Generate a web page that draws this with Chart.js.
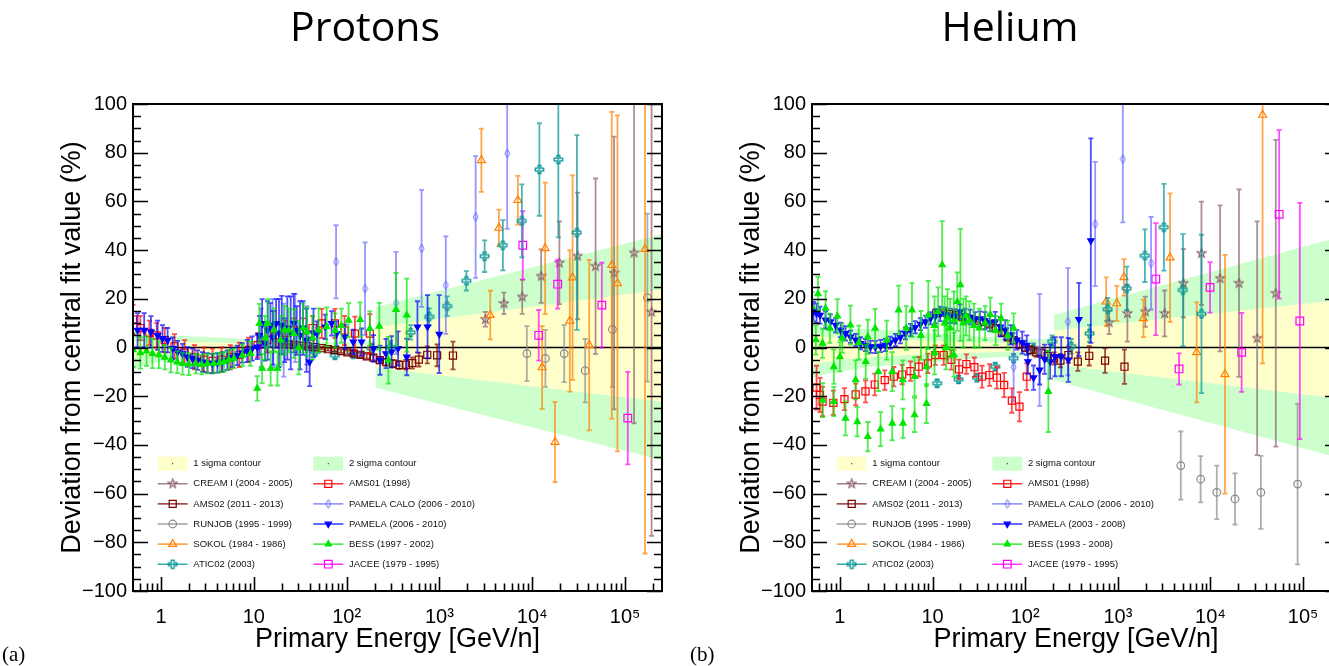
<!DOCTYPE html>
<html>
<head>
<meta charset="utf-8">
<script src="https://cdn.jsdelivr.net/npm/chart.js@4.4.1/dist/chart.umd.min.js"></script>
<style>
  html, body { margin: 0; padding: 0; width: 1329px; height: 666px; overflow: hidden; background: #fff; }
  canvas { position: absolute; top: 0; }
  #protonChart { left: 0; }
  #heliumChart { left: 679px; }
  .title { position: absolute; top: 5px; width: 300px; text-align: center; font-family: 'Open Sans', sans-serif; font-size: 41px; line-height: 1; color: #000; }
  .tag { position: absolute; top: 644px; font-family: 'Liberation Serif', serif; font-size: 21px; line-height: 1; color: #000; }
</style>
</head>
<body>
<canvas id="protonChart" width="680" height="666"></canvas>
<canvas id="heliumChart" width="680" height="666"></canvas>
<div class="title" style="left:215px">Protons</div>
<div class="title" style="left:860px">Helium</div>
<div class="tag" style="left:2px">(a)</div>
<div class="tag" style="left:690px">(b)</div>
<script>
// Deviation from central fit value, protons (a) and helium (b)

// Axes
const xMin = 0.5, xMax = 2.5e5;
const yMin = -100, yMax = 100;
const xTickValues = [1, 10, 100, 1000, 10000, 100000];
const xTickLabels = ['1', '10', '10\u00B2', '10\u00B3', '10\u2074', '10\u2075'];
const yTickStep = 20;

// ---------- Protons ----------
// fit uncertainty bands (low energy part and high energy part)
const pBandLowE = [0.5, 0.7, 1, 2, 5, 10, 20, 50, 100, 205];
const pBandLowGreenTop = [6, 5.5, 5, 4.6, 4, 3.2, 2.6, 2.2, 2.2, 2.6];
const pBandLowGreenBot = [-9, -7, -5.8, -4.8, -4, -3.2, -2.6, -2.2, -2.2, -2.6];
const pBandLowYellowTop = [2.5, 2.4, 2.3, 2.2, 2, 1.6, 1.3, 1.1, 1.1, 1.3];
const pBandLowYellowBot = [-4, -3.4, -3, -2.4, -2, -1.6, -1.3, -1.1, -1.1, -1.3];
const pBandHighE = [205, 250000];
const pBandHighGreenTop = [16.5, 46.5];
const pBandHighGreenBot = [-16.5, -46.3];
const pBandHighYellowTop = [8.3, 23.8];
const pBandHighYellowBot = [-8.3, -22.3];

const pCreamE = [3130, 4950, 7800, 12470, 19600, 30800, 48100, 76200, 125000, 193000];
const pCreamV = [11.6, 18.1, 20.8, 29.3, 34.8, 37.6, 33.4, 30.6, 38.9, 14.6];
const pCreamErr = [3, 4.4, 7, 11, 17, 26, 36, 56, 70, 92];

const pAms02E = [20, 24, 28, 33, 39, 46, 54, 63, 74, 87, 102, 120, 141, 165, 194, 228, 268, 315, 370, 435, 510, 600, 740, 945, 1400];
const pAms02V = [1.5, 1.3, 1.0, 0.7, 0.4, 0.1, -0.3, -0.7, -1.1, -1.5, -2.0, -2.5, -3.0, -3.6, -4.2, -5.2, -6.0, -6.6, -7.2, -7.1, -6.4, -5.0, -3.0, -3.2, -3.3];
const pAms02Err = [0.4, 0.4, 0.4, 0.4, 0.5, 0.5, 0.5, 0.6, 0.6, 0.7, 0.8, 0.8, 0.9, 1.0, 1.1, 1.2, 1.3, 1.5, 1.7, 2.0, 2.3, 2.8, 3.5, 4.5, 5.7];

const pRunjobE = [8750, 13860, 22100, 37200, 73100, 174000];
const pRunjobV = [-2.5, -4.5, -2.5, -9.5, 7.4, 20.5];
const pRunjobErr = [11.3, 11.7, 11.7, 13, 23.6, 34.5];

const pSokolE = [2830, 3530, 4370, 7000, 12770, 13770, 17600, 25400, 27200, 41100, 71900, 82800, 164000];
const pSokolV = [76.9, 13.3, 49.1, 60.5, -8.2, 40.7, -38.8, 10.9, 28.7, 1, 33.8, 26.3, 40.4];
const pSokolErr = [13, 10, 7.5, 10, 17, 27, 16.5, 29, 42, 35, 63, 69, 125];

const pAticE = [46, 75, 118, 187, 297, 490, 775, 1210, 1950, 3070, 4830, 7730, 11940, 19100, 30300];
const pAticV = [-1.8, -3.2, -2.7, -0.4, 0.2, 6.2, 12.6, 17, 27.4, 37.5, 42, 52, 73.1, 77.2, 47.2];
const pAticErr = [1.5, 1.5, 1.5, 2, 2.5, 3, 3.5, 4, 4, 6.5, 10.3, 15, 19, 32, 40];

const pAms01E = [0.5, 0.6, 0.75, 0.9, 1.1, 1.4, 1.8, 2.3, 2.9, 3.6, 4.5, 5.6, 7, 8.8, 11, 14, 17, 22, 27, 34, 43, 54, 75, 95, 123, 178];
const pAms01V = [11.5, 8, 6, 5, 3, 0.5, -2, -4, -5, -5.5, -5, -4, -3, -1, 1, 3, 5, 6, 7, 7, 8, 9.9, 9.9, 7, 5.7, 5.7];
const pAms01Err = [6, 5, 5, 5, 5, 5, 5, 5, 5, 5, 5, 5, 5, 5, 5, 5, 5, 5, 5, 5, 5, 6, 6, 6, 7, 8];

const pPamelaCaloE = [12, 16, 21, 28, 37, 77, 158, 341, 643, 1172, 2455, 5374];
const pPamelaCaloV = [4, 6, 3, 8, 5, 35.2, 24.2, 18.3, 40.7, 25.6, 53.6, 79.7];
const pPamelaCaloErr = [12, 14, 15, 14, 12, 15, 19, 21, 24, 20, 25, 31];

const pPamelaE = [0.56, 0.66, 0.78, 0.92, 1.04, 1.18, 1.34, 1.51, 1.71, 1.93, 2.19, 2.48, 2.8, 3.17, 3.59, 4.06, 4.59, 5.19, 5.88, 6.65, 7.53, 8.5, 9.6, 10.9,
  11.5, 12.3, 13.2, 14.1, 15.1, 16.2, 17.4, 18.7, 20, 21.5, 23, 25, 27, 29, 31.5, 34, 37, 40, 44,
  48, 58.9, 69, 78, 96, 118, 145, 195, 229, 266, 305, 359, 445, 580, 745, 995];
const pPamelaV = [7.1, 7.1, 6.4, 5, 3.7, 3, -0.4, -1.8, -2.5, -3.9, -4.5, -5.2, -5.9, -6.3, -6.6, -6.3, -5.9, -5.2, -4.1, -3.2, -2.2, -1.4, -0.4, 0.2,
  5, 9.9, 1.6, 7, 9.2, 4, 9.9, 6, 9.2, 3, 8, 6, 10, 7, 5, 8, 3, -5.9, 6,
  5.7, 8.5, 9.9, 5.7, 4.4, 2.3, 2.3, -0.4, -5.2, -2.5, -1.8, -0.4, -3.9, 8.5, 8.5, 5.5];
const pPamelaErr = [7, 7, 6.5, 6, 5.5, 5, 4.5, 4.5, 4, 4, 4, 4, 4, 4, 4, 4, 4, 4, 4, 4, 4, 4.5, 5, 5,
  8, 10, 7, 12, 9, 11, 10, 14, 12, 9, 13, 15, 12, 10, 14, 11, 13, 10, 10,
  5, 5, 5, 5, 5, 5, 5.5, 5.5, 6, 6, 6.5, 7, 7.5, 10.5, 13, 16];

const pBessE = [0.5, 0.6, 0.7, 0.81, 0.95, 1.1, 1.28, 1.5, 1.71, 2.0, 2.38, 2.75, 3.17, 3.7, 4.3, 4.79, 5.4, 6.12, 7.55, 9.2,
  10.9, 11.5, 12.3, 13.2, 14.2, 15.2, 16.5, 18, 19.5, 21.5, 23.8, 27, 30.5, 34, 37.5, 43, 50, 61, 75, 88, 105, 140, 178, 225, 282, 341, 445];
const pBessV = [-1, -2.2, -1.5, -2.5, -3, -4, -5.2, -6, -6.6, -6.8, -6.6, -7, -6.6, -6.5, -6.2, -5.9, -5, -4.5, -3.2, -2.5,
  -16.8, 9.9, -8.6, 4, 9.9, -8.6, 7.1, -8.6, 3, 7.1, 7.1, 5.7, 0, 8, 6.4, 4, 7.1, 8.5, 7, 9, 11.2, 11.5, 7.8, 8.7, -5.2, 15.6, 13.3];
const pBessErr = [7, 6.5, 6, 6, 5.5, 5, 5, 4.5, 4.5, 4.5, 4, 4, 4, 4, 4, 4, 4, 4, 4.5, 5,
  5, 8, 6, 9, 10, 7, 9, 7, 10, 10, 9, 10, 11, 10, 10, 9, 9, 8, 7, 7, 7, 7, 7, 9.6, 9.6, 15, 15];

const pJaceeE = [7910, 11750, 18800, 56200, 107000];
const pJaceeV = [42, 5, 26, 17.4, -29];
const pJaceeErr = [14, 10.4, 10, 17.4, 19];

// ---------- Helium ----------
const hBandLowE = [0.5, 0.7, 1, 2, 5, 10, 20, 50, 100, 205];
const hBandLowGreenTop = [9, 8.5, 8, 7.5, 6.8, 6, 5, 4, 3.5, 3.5];
const hBandLowGreenBot = [-12.5, -11, -10, -8, -6.8, -6, -5, -4, -3.5, -3.5];
const hBandLowYellowTop = [5, 4.5, 4, 3.5, 3.2, 2.8, 2.3, 1.9, 1.7, 1.7];
const hBandLowYellowBot = [-7, -6, -5, -4, -3.2, -2.8, -2.3, -1.9, -1.7, -1.7];
const hBandHighE = [205, 250000];
const hBandHighGreenTop = [13.5, 45.5];
const hBandHighGreenBot = [-13.5, -45.5];
const hBandHighYellowTop = [7, 19.5];
const hBandHighYellowBot = [-7, -21];

const hCreamE = [806, 1268, 1980, 3200, 5100, 7990, 12700, 20300, 31900, 50700];
const hCreamV = [10.3, 14, 14.7, 14, 26.4, 38.7, 28.4, 26.4, 3.8, 22.3];
const hCreamErr = [4.8, 11.6, 6.2, 9.4, 14, 21.2, 30, 38.5, 48, 63];

const hAms02E = [11, 13, 15.5, 18, 21, 25, 30, 35, 41, 48, 56, 65, 75, 87, 100, 115, 132, 150, 175, 205, 240, 293, 370, 491, 728, 1180];
const hAms02V = [14, 14.3, 13.8, 13.3, 12.5, 11.8, 11, 10.5, 9.5, 8, 6, 4.2, 3, 1.2, 0, -1, -2, -2.4, -3.5, -4.5, -5.4, -3.1, -5.8, -3.4, -5.4, -7.9];
const hAms02Err = [0.6, 0.6, 0.6, 0.7, 0.7, 0.8, 0.8, 0.9, 1, 1, 1.1, 1.2, 1.3, 1.4, 1.5, 1.6, 1.8, 2, 2.2, 2.5, 2.8, 3.2, 3.8, 4, 5, 7];

const hRunjobE = [4780, 7830, 11700, 18400, 35000, 87100];
const hRunjobV = [-48.5, -54.1, -59.5, -62.2, -59.5, -56.1];
const hRunjobErr = [14, 9.5, 11, 10.5, 15, 33];

const hSokolE = [748, 975, 1165, 1890, 3660, 7100, 14330, 36500];
const hSokolV = [18.8, 18.1, 28.8, 12, 36.9, -2, -11, 95.5];
const hSokolErr = [10, 7.2, 7.5, 7.7, 26.4, 20.5, 49, 102];

const hAticE = [11.2, 19.1, 30.2, 47.5, 75, 123, 195, 314, 494, 778, 1248, 1960, 3140, 5050, 7990];
const hAticV = [-14.7, -13.1, -12.4, -7.9, -4.4, -0.3, 2.5, 0.5, 5.8, 15.7, 24.3, 37.7, 49.4, 23.6, 13.8];
const hAticErr = [1.5, 1.5, 1.5, 1.5, 1.8, 2, 2.5, 3, 3.5, 4.7, 8.9, 10.8, 17.8, 23, 32.5];

const hAms01E = [0.56, 0.61, 0.65, 0.85, 1.12, 1.48, 1.89, 2.38, 3.05, 3.82, 4.7, 5.78, 7.1, 8.9, 10.7, 13.2, 16, 19.3, 23.2, 28.3, 34.2, 41.2, 49.5, 59.3, 71.8, 86.7, 104];
const hAms01V = [-16.5, -19.5, -22.2, -22.7, -21.2, -19.3, -18, -15.2, -13.4, -12, -11.1, -9.7, -7.9, -6.5, -3.1, -3.1, -5.1, -9, -6.8, -8.1, -12, -11.3, -12.4, -15.4, -21.8, -24.3, -12];
const hAms01Err = [9, 7, 6, 5, 4.5, 4.5, 4.5, 4.5, 4, 4, 4, 4, 4, 4, 4, 4, 4, 4, 4, 4, 4.5, 4.5, 4.5, 5, 5, 6, 5.5];

const hPamelaCaloE = [75, 143, 289, 569, 1132, 2285];
const hPamelaCaloV = [-8.1, -1, 10.6, 50.7, 77.4, 34.6];
const hPamelaCaloErr = [14, 23, 22, 25.5, 26, 19];

const hPamelaE = [0.52, 0.56, 0.61, 0.70, 0.79, 0.90, 1.02, 1.15, 1.30, 1.48, 1.67, 1.89, 2.14, 2.42, 2.75, 3.1, 3.5, 3.98, 4.5, 5.1,
  5.8, 6.5, 7.4, 8.4, 9.5, 10.7, 12.1, 13.7, 15.5, 17.5, 19.8, 22.4, 25.4, 28.7, 32.5, 36.7, 41.5, 47.5, 54, 61,
  70, 81.5, 93, 104, 107, 123, 143, 162, 186, 210, 245, 292, 380, 511];
const hPamelaV = [14.7, 14, 13.3, 11.3, 10.6, 9.2, 7.2, 5.8, 4.4, 3.1, 1.7, 1.0, 0.3, 0.2, 0.6, 1.0, 2.0, 3.1, 4.2, 5.8,
  7.2, 8.3, 9.6, 10.6, 12, 12.9, 13.8, 13.5, 13, 12.8, 14.7, 13, 12.5, 11.5, 11.8, 11, 10.2, 10.6, 8.5, 7.2,
  5.2, 3.1, 2, 1, -5.8, -12.4, -9.2, -4.8, -5.8, -3.8, -3.8, -5.1, 11.5, 43.9];
const hPamelaErr = [4, 4, 3.5, 3.5, 3, 3, 3, 3, 2.5, 2.5, 2.5, 2.5, 2.5, 2.5, 2.5, 2.5, 2.5, 2.5, 2.5, 2.5,
  2.5, 2.5, 2.5, 2.5, 2.5, 3, 3, 3, 3, 3, 3, 3, 3, 3, 3, 3.5, 3.5, 4, 4, 4,
  4, 4, 4.5, 4, 5, 5, 6, 6, 7, 8, 8, 9, 15, 42];

const hBessE = [0.5, 0.55, 0.58, 0.65, 0.7, 0.78, 0.94, 1.06, 1.3, 1.6, 2.0, 2.4, 3.2, 4.3, 5.2, 6.0, 7.5, 9.0, 10.5, 11.5,
  12.7, 13.5, 14.5, 15.5, 17, 18.5, 20, 21.5, 23, 25, 28, 32, 37, 42, 48, 55, 65, 75,
  0.65, 0.86, 1.15, 1.54, 2.0, 2.75, 3.67, 4.8, 6.4, 8.6,
  0.86, 1.0, 1.48, 1.9, 2.6, 3.67, 4.77, 6.4, 8.6, 10.5, 14, 17, 178];
const hBessV = [16.8, 3.1, 22, 1.7, 16.1, 7.9, 12.9, 3.8, 9.2, 2, 4.4, 7.9, 3, 15.4, 8, 15.4, 5, 13.3, 9, 14.7,
  33.9, 10, 12, 8, 11, 18.8, 25.7, 10, 13, 11, 9, 8, 10, 13.5, 7, 12, 5, 8,
  -21.6, -22.2, -29.1, -30.5, -36.6, -33.5, -31.1, -31.1, -27.7, -23,
  -7.9, -3.8, -13.3, -5.8, -9.9, -9.9, -13.3, -12, -7.9, -2, 0, -3, -18.1];
const hBessErr = [6, 6, 7, 6, 7, 6, 7, 6, 8, 7, 7, 8, 8, 10, 9, 11, 10, 14, 12, 10,
  18, 11, 12, 12, 12, 12, 23, 10, 8, 8, 9, 8, 7, 7, 6, 6, 6, 6,
  7, 6, 7, 6, 6, 7, 7, 6, 7, 8,
  7, 6, 8, 7, 8, 8, 8, 8, 8, 9, 9, 9, 16.6];

const hJaceeE = [2570, 4580, 9890, 21700, 55100, 92100];
const hJaceeV = [28.1, -8.8, 24.7, -2, 54.7, 10.9];
const hJaceeErr = [23, 6.4, 10.4, 16.2, 34.6, 48.5];

// ---------- styles ----------
const FONT = "'Liberation Sans', Arial, Helvetica, sans-serif";
const YELLOW = '#ffffcc';
const GREEN = '#ccffcc';
const COLORS = {
  cream: '#8c5f69', ams02: '#7a0000', runjob: '#8a8a8a', sokol: '#ff7f00', atic: '#009494',
  ams01: '#ff0000', pcalo: '#6b6bff', pamela: '#0000ff', bess: '#00e600', jacee: '#ff00ff'
};

Chart.defaults.font.family = FONT;
Chart.defaults.color = '#000';

// small canvas markers for shapes Chart.js does not have (open star, open cross, thin diamond)
function marker(w, h, color, lw, path) {
  const c = document.createElement('canvas');
  c.width = w; c.height = h;
  const g = c.getContext('2d');
  g.strokeStyle = color;
  g.lineWidth = lw;
  g.translate(w / 2, h / 2);
  g.beginPath();
  path(g);
  g.closePath();
  g.stroke();
  return c;
}
function starPath(g) {
  for (let i = 0; i < 10; i++) {
    const r = i % 2 === 0 ? 4.7 : 1.9;
    const a = -Math.PI / 2 + i * Math.PI / 5;
    g.lineTo(r * Math.cos(a), r * Math.sin(a));
  }
}
function crossPath(g) {
  const a = 1.4, L = 4.2;
  [[-a, -L], [a, -L], [a, -a], [L, -a], [L, a], [a, a], [a, L], [-a, L], [-a, a], [-L, a], [-L, -a], [-a, -a]]
    .forEach(p => g.lineTo(p[0], p[1]));
}
function diamondPath(g) {
  g.moveTo(0, -4.3); g.lineTo(2.4, 0); g.lineTo(0, 4.3); g.lineTo(-2.4, 0);
}

function styleFor(key) {
  const col = COLORS[key];
  const base = { pointBorderColor: col, borderColor: col, pointBackgroundColor: 'rgba(0,0,0,0)', pointBorderWidth: 1.2, pointRotation: 0, errColor: col };
  switch (key) {
    case 'cream': return Object.assign(base, { pointStyle: marker(11, 11, col, 1.1, starPath), pointRadius: 5 });
    case 'atic': return Object.assign(base, { pointStyle: marker(11, 11, col, 1.3, crossPath), pointRadius: 5 });
    case 'pcalo': return Object.assign(base, { pointStyle: marker(7, 11, col, 1, diamondPath), pointRadius: 4 });
    case 'runjob': return Object.assign(base, { pointStyle: 'circle', pointRadius: 3.8 });
    case 'sokol': return Object.assign(base, { pointStyle: 'triangle', pointRadius: 4.6 });
    case 'pamela': return Object.assign(base, { pointStyle: 'triangle', pointRadius: 3.6, pointRotation: 180, pointBackgroundColor: col });
    case 'bess': return Object.assign(base, { pointStyle: 'triangle', pointRadius: 3.6, pointBackgroundColor: col });
    case 'jacee': return Object.assign(base, { pointStyle: 'rect', pointRadius: 5.4 });
    default: return Object.assign(base, { pointStyle: 'rect', pointRadius: 5 });
  }
}

function series(label, key, E, V, err) {
  return Object.assign({
    label: label,
    data: E.map((e, i) => ({ x: e, y: V[i] })),
    errors: err,
    showLine: false,
    order: 1
  }, styleFor(key));
}

function bandPair(E, top, bot, color, order) {
  return [
    { label: '', data: E.map((e, i) => ({ x: e, y: top[i] })), fill: '+1', backgroundColor: color,
      borderWidth: 0, pointRadius: 0, order: order },
    { label: '', data: E.map((e, i) => ({ x: e, y: bot[i] })), fill: false,
      borderWidth: 0, pointRadius: 0, order: order }
  ];
}

// error bars, drawn just before the markers of each series
const errorBars = {
  id: 'errorBars',
  beforeDatasetDraw(chart, args) {
    const ds = chart.data.datasets[args.index];
    if (!ds.errors) return;
    const { ctx, chartArea: a, scales: { x, y } } = chart;
    ctx.save();
    ctx.beginPath();
    ctx.rect(a.left, a.top, a.right - a.left, a.bottom - a.top);
    ctx.clip();
    ctx.strokeStyle = ds.errColor;
    ctx.globalAlpha = 0.7;
    ctx.lineWidth = 1.8;
    ds.data.forEach((p, i) => {
      const px = x.getPixelForValue(p.x);
      const y1 = y.getPixelForValue(p.y - ds.errors[i]);
      const y2 = y.getPixelForValue(p.y + ds.errors[i]);
      ctx.beginPath();
      ctx.moveTo(px, y1); ctx.lineTo(px, y2);
      ctx.moveTo(px - 2.5, y1); ctx.lineTo(px + 2.5, y1);
      ctx.moveTo(px - 2.5, y2); ctx.lineTo(px + 2.5, y2);
      ctx.stroke();
    });
    ctx.restore();
  }
};

// ROOT style frame with ticks pointing inside
const frame = {
  id: 'frame',
  afterDatasetsDraw(chart) {
    const { ctx, chartArea: a, scales: { x, y } } = chart;
    ctx.save();
    ctx.strokeStyle = '#000';
    ctx.lineWidth = 1.6;
    ctx.beginPath();
    for (let v = yMin; v <= yMax; v += 5) {
      const py = Math.round(y.getPixelForValue(v)) + 0.5;
      const len = v % yTickStep === 0 ? 15 : 8;
      ctx.moveTo(a.left, py); ctx.lineTo(a.left + len, py);
      ctx.moveTo(a.right, py); ctx.lineTo(a.right - len, py);
    }
    for (let d = -1; d <= 5; d++) {
      for (let m = 1; m <= 9; m++) {
        const v = m * Math.pow(10, d);
        if (v <= xMin * 1.0001 || v >= xMax) continue;
        const px = Math.round(x.getPixelForValue(v)) + 0.5;
        const len = m === 1 ? 14 : 7.5;
        ctx.moveTo(px, a.bottom); ctx.lineTo(px, a.bottom - len);
      }
    }
    ctx.stroke();
    ctx.lineWidth = 2;
    ctx.strokeRect(a.left, a.top, a.right - a.left, a.bottom - a.top);
    ctx.restore();
  }
};

// legend in two columns inside the frame
const boxLegend = {
  id: 'boxLegend',
  afterDraw(chart, args, opts) {
    const { ctx, chartArea: a } = chart;
    ctx.save();
    ctx.font = '9.5px ' + FONT;
    ctx.textBaseline = 'middle';
    opts.rows.forEach((row, r) => {
      row.forEach((item, c) => {
        const x0 = a.left + (c === 0 ? 24.7 : 180.3);
        const yc = a.top + 359.7 + r * 20.1;
        if (item.band) {
          ctx.fillStyle = item.band;
          ctx.fillRect(x0, yc - 7, 30, 14);
          ctx.fillStyle = '#000';
          ctx.fillRect(x0 + 14.5, yc - 0.5, 1, 1);
        } else {
          const ds = chart.data.datasets.find(d => d.label === item.label);
          ctx.strokeStyle = ds.pointBorderColor;
          ctx.lineWidth = 1.2;
          ctx.beginPath(); ctx.moveTo(x0, yc); ctx.lineTo(x0 + 30, yc); ctx.stroke();
          ctx.fillStyle = ds.pointBackgroundColor;
          ctx.lineWidth = ds.pointBorderWidth;
          Chart.helpers.drawPoint(ctx, { pointStyle: ds.pointStyle, radius: ds.pointRadius,
            rotation: ds.pointRotation, borderWidth: ds.pointBorderWidth }, x0 + 15, yc);
        }
        ctx.fillStyle = '#111';
        ctx.fillText(item.label, x0 + 35.6, yc);
      });
    });
    ctx.restore();
  }
};

function makePanel(canvasId, bands, list, legendRows, rightPad) {
  const datasets = [];
  bands.forEach(b => datasets.push(...bandPair(b.E, b.gTop, b.gBot, GREEN, 20)));
  bands.forEach(b => datasets.push(...bandPair(b.E, b.yTop, b.yBot, YELLOW, 19)));
  datasets.push({ label: '', data: [{ x: xMin, y: 0 }, { x: xMax, y: 0 }], borderColor: '#000',
    borderWidth: 1.3, pointRadius: 0, fill: false, order: 18 });
  list.forEach(s => datasets.push(s));

  return new Chart(document.getElementById(canvasId), {
    type: 'line',
    data: { datasets: datasets },
    options: {
      responsive: false,
      animation: false,
      events: [],
      layout: { padding: { top: 104, left: 0, right: rightPad, bottom: 0 } },
      plugins: {
        legend: { display: false },
        tooltip: { enabled: false },
        boxLegend: { rows: legendRows }
      },
      scales: {
        x: {
          type: 'logarithmic', min: xMin, max: xMax,
          grid: { display: false, drawTicks: false }, border: { display: false },
          afterBuildTicks: s => { s.ticks = xTickValues.map(v => ({ value: v })); },
          afterFit: s => { s.height = 75; },
          ticks: { autoSkip: false, maxRotation: 0, padding: 14, font: { size: 20 },
            callback: (v, i) => xTickLabels[i] },
          title: { display: true, text: 'Primary Energy [GeV/n]', font: { size: 27 }, padding: { top: 0, bottom: 10 } }
        },
        y: {
          type: 'linear', min: yMin, max: yMax,
          grid: { display: false, drawTicks: false }, border: { display: false },
          afterFit: s => { s.width = 133; },
          ticks: { stepSize: yTickStep, padding: 6, font: { size: 20 },
            callback: v => String(v).replace('-', '\u2212') },
          title: { display: true, text: 'Deviation from central fit value (%)', font: { size: 27 }, padding: { top: 56, bottom: 0 } }
        }
      }
    },
    plugins: [errorBars, frame, boxLegend]
  });
}

// ---------- build ----------
const protonSeries = [
  series('BESS (1997 - 2002)', 'bess', pBessE, pBessV, pBessErr),
  series('PAMELA (2006 - 2010)', 'pamela', pPamelaE, pPamelaV, pPamelaErr),
  series('AMS01 (1998)', 'ams01', pAms01E, pAms01V, pAms01Err),
  series('PAMELA CALO (2006 - 2010)', 'pcalo', pPamelaCaloE, pPamelaCaloV, pPamelaCaloErr),
  series('AMS02 (2011 - 2013)', 'ams02', pAms02E, pAms02V, pAms02Err),
  series('ATIC02 (2003)', 'atic', pAticE, pAticV, pAticErr),
  series('JACEE (1979 - 1995)', 'jacee', pJaceeE, pJaceeV, pJaceeErr),
  series('SOKOL (1984 - 1986)', 'sokol', pSokolE, pSokolV, pSokolErr),
  series('CREAM I (2004 - 2005)', 'cream', pCreamE, pCreamV, pCreamErr),
  series('RUNJOB (1995 - 1999)', 'runjob', pRunjobE, pRunjobV, pRunjobErr)
];
const heliumSeries = [
  series('BESS (1993 - 2008)', 'bess', hBessE, hBessV, hBessErr),
  series('PAMELA (2003 - 2008)', 'pamela', hPamelaE, hPamelaV, hPamelaErr),
  series('AMS01 (1998)', 'ams01', hAms01E, hAms01V, hAms01Err),
  series('PAMELA CALO (2006 - 2010)', 'pcalo', hPamelaCaloE, hPamelaCaloV, hPamelaCaloErr),
  series('AMS02 (2011 - 2013)', 'ams02', hAms02E, hAms02V, hAms02Err),
  series('ATIC02 (2003)', 'atic', hAticE, hAticV, hAticErr),
  series('JACEE (1979 - 1995)', 'jacee', hJaceeE, hJaceeV, hJaceeErr),
  series('SOKOL (1984 - 1986)', 'sokol', hSokolE, hSokolV, hSokolErr),
  series('CREAM I (2004 - 2005)', 'cream', hCreamE, hCreamV, hCreamErr),
  series('RUNJOB (1995 - 1999)', 'runjob', hRunjobE, hRunjobV, hRunjobErr)
];

function legendRows(pamelaLabel, bessLabel) {
  return [
    [{ label: '1 sigma contour', band: YELLOW }, { label: '2 sigma contour', band: GREEN }],
    [{ label: 'CREAM I (2004 - 2005)' }, { label: 'AMS01 (1998)' }],
    [{ label: 'AMS02 (2011 - 2013)' }, { label: 'PAMELA CALO (2006 - 2010)' }],
    [{ label: 'RUNJOB (1995 - 1999)' }, { label: pamelaLabel }],
    [{ label: 'SOKOL (1984 - 1986)' }, { label: bessLabel }],
    [{ label: 'ATIC02 (2003)' }, { label: 'JACEE (1979 - 1995)' }]
  ];
}

makePanel('protonChart',
  [{ E: pBandLowE, gTop: pBandLowGreenTop, gBot: pBandLowGreenBot, yTop: pBandLowYellowTop, yBot: pBandLowYellowBot },
   { E: pBandHighE, gTop: pBandHighGreenTop, gBot: pBandHighGreenBot, yTop: pBandHighYellowTop, yBot: pBandHighYellowBot }],
  protonSeries, legendRows('PAMELA (2006 - 2010)', 'BESS (1997 - 2002)'), 18);

makePanel('heliumChart',
  [{ E: hBandLowE, gTop: hBandLowGreenTop, gBot: hBandLowGreenBot, yTop: hBandLowYellowTop, yBot: hBandLowYellowBot },
   { E: hBandHighE, gTop: hBandHighGreenTop, gBot: hBandHighGreenBot, yTop: hBandHighYellowTop, yBot: hBandHighYellowBot }],
  heliumSeries, legendRows('PAMELA (2003 - 2008)', 'BESS (1993 - 2008)'), 19);
</script>
</body>
</html>
